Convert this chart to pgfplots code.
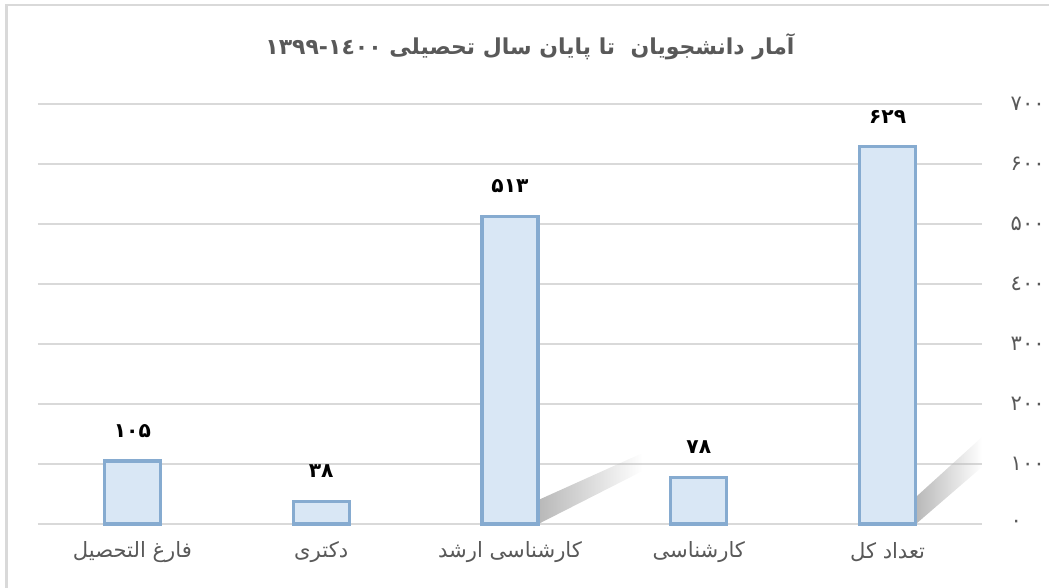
\documentclass[border=0pt]{standalone}
\usepackage{fontspec}
\usepackage{pgfplots}
\pgfplotsset{compat=1.18}
\usetikzlibrary{fadings}
\TeXXeTstate=1
\newfontfamily\arabicfont[Script=Arabic]{DejaVu Sans}
\definecolor{txtGray}{HTML}{595959}
\definecolor{gridGray}{HTML}{D9D9D9}
\definecolor{barEdge}{HTML}{86ABD0}
\definecolor{barFill}{HTML}{D9E7F5}

\begin{document}
\begin{tikzpicture}
\path[use as bounding box] (0,0) rectangle (20.98cm,11.76cm);
% outer chart border (only top and left visible)
\draw[gridGray, line width=1.2pt] (0.13cm,0) -- (0.13cm,11.66cm) -- (20.98cm,11.66cm);

\begin{axis}[
    scale only axis,
    width=18.88cm, height=8.4cm,
    at={(0.76cm,1.28cm)}, anchor=south west,
    xmin=-0.5, xmax=4.5,
    ymin=0, ymax=700,
    axis line style={draw=none},
    major tick length=0pt,
    ymajorgrids=true,
    grid style={gridGray, line width=0.9pt},
    xtick={0,1,2,3,4},
    xticklabels={
        {\beginR فارغ التحصیل\endR},
        {\beginR دکتری\endR},
        {\beginR کارشناسی ارشد\endR},
        {\beginR کارشناسی\endR},
        {\beginR تعداد کل\endR}},
    xticklabel style={font=\arabicfont\fontsize{12}{14}\selectfont, text=txtGray, anchor=center, yshift=-0.56cm},
    ytick={0,100,200,300,400,500,600,700},
    yticklabels={۰,۱۰۰,۲۰۰,۳۰۰,٤۰۰,۵۰۰,۶۰۰,۷۰۰},
    yticklabel pos=right,
    yticklabel style={font=\arabicfont\fontsize{12}{14}\selectfont, text=txtGray, anchor=west, xshift=0.45cm},
    clip=false,
]
% soft shadows behind the two tall bars
\fill[black!28, path fading=east]
    (axis cs:2.15,0) -- (axis cs:2.7,88) -- (axis cs:2.7,118) -- (axis cs:2.15,40) -- cycle;
\fill[black!28, path fading=east]
    (axis cs:4.15,0) -- (axis cs:4.5,95) -- (axis cs:4.5,145) -- (axis cs:4.15,45) -- cycle;

\addplot[ybar, bar width=1.12cm, draw=barEdge, line width=1.8pt, fill=barFill,
    nodes near coords, point meta=explicit symbolic,
    every node near coord/.append style={font=\arabicfont\bfseries\fontsize{11.5}{13}\selectfont,
        text=black, anchor=center, yshift=0.6cm}]
    coordinates {(0,105) [۱۰۵] (1,38) [۳۸] (2,513) [۵۱۳] (3,78) [۷۸] (4,629) [۶۲۹]};
\end{axis}

\node[font=\arabicfont\bfseries\fontsize{12.5}{15}\selectfont, text=txtGray] at (10.6cm,10.82cm)
    {\beginR آمار دانشجویان \ تا پایان سال تحصیلی \beginL ۱۳۹۹-۱٤۰۰\endL\endR};
\end{tikzpicture}
\end{document}
